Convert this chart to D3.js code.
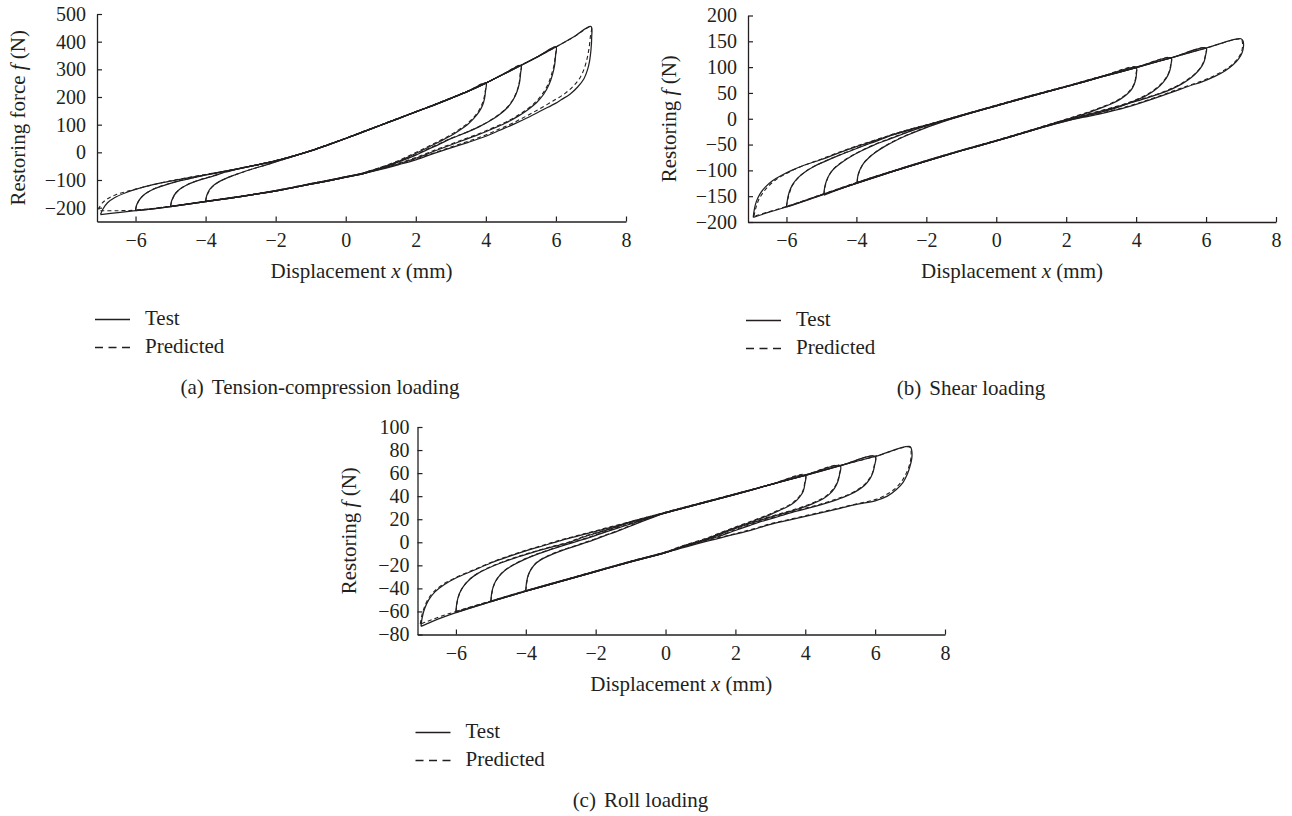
<!DOCTYPE html>
<html>
<head>
<meta charset="utf-8">
<script src="https://cdn.jsdelivr.net/npm/d3@7"></script>
<style>
  html, body { margin: 0; padding: 0; background: #ffffff; }
  svg text { font-family: 'Liberation Serif', 'Times New Roman', serif; fill: #231f20; }
</style>
</head>
<body>
<svg id="fig" width="1292" height="816"></svg>
<script>
// ---------- shared axis values ----------
const xTickValues = [-6, -4, -2, 0, 2, 4, 6, 8];
const innerAmplitudes = [4, 5, 6];   // inner loops; the 7 mm loop is the outer envelope
const outerAmplitude = 7;
const legendLabels = ["Test", "Predicted"];
const xTitle = ["Displacement ", "x", " (mm)"];

// ---------- (a) tension-compression loading ----------
const tcTicksY = [-200, -100, 0, 100, 200, 300, 400, 500];
const tcTitleY = ["Restoring force ", "f", " (N)"];
const tcCaption = ["(a)", "Tension-compression loading"];

// outer loop, loading branch (x increasing)
const tcUpperTest = [[-7.0,-225],[-6.93,-205],[-6.8,-182],[-6.6,-164],[-6.3,-147],[-6.0,-134],[-5.5,-117],[-5.0,-104],[-4.5,-92],[-4.0,-81],[-3.5,-70],[-3.0,-58],[-2.5,-45],[-2.0,-31],[-1.5,-14],[-1.0,5],[-0.5,27],[0,50],[0.5,74],[1,98],[1.5,122],[2,146],[2.5,170],[3,195],[3.5,221],[4,250],[4.5,282],[5,314],[5.5,347],[6,381],[6.5,417],[7.0,455]];
// outer loop, unloading branch (x decreasing)
const tcLowerTest = [[7.0,455],[7.02,415],[7.0,370],[6.96,330],[6.9,298],[6.8,266],[6.62,236],[6.4,210],[6.15,190],[6.0,178],[5.6,152],[5.2,126],[4.8,102],[4.4,80],[4.0,58],[3.5,36],[3.0,16],[2.5,-5],[2.0,-27],[1.5,-45],[1.0,-62],[0.5,-77],[0,-90],[-0.5,-103],[-1,-115],[-1.5,-128],[-2,-140],[-2.5,-150],[-3,-160],[-3.5,-169],[-4,-178],[-4.5,-187],[-5,-196],[-5.5,-204],[-6,-211],[-6.5,-218],[-7.0,-225]];
// reversal at -A for A = 4, 5, 6
const tcLeftTest = [
  [[-4,-178],[-3.98,-162],[-3.94,-147],[-3.87,-132],[-3.76,-118],[-3.6,-105],[-3.4,-93],[-3.15,-81],[-2.85,-67.5],[-2.5,-54],[-2.15,-40.5],[-1.8,-26.5],[-1.45,-12.8]],
  [[-5,-196],[-4.98,-180],[-4.93,-163],[-4.85,-147],[-4.72,-132],[-4.55,-119],[-4.33,-107],[-4.07,-96],[-3.77,-85],[-3.45,-72],[-3.1,-61]],
  [[-6,-211],[-5.98,-195],[-5.93,-180],[-5.85,-165],[-5.72,-150],[-5.55,-137],[-5.32,-125],[-5.05,-114],[-4.72,-102.5],[-4.35,-92],[-3.95,-81]]
];
// reversal at +A for A = 4, 5, 6
const tcRightTest = [
  [[4,250],[3.99,222],[3.96,193],[3.9,168],[3.8,145],[3.65,122],[3.47,100],[3.25,80],[3.0,60],[2.7,40],[2.4,21],[2.1,2],[1.8,-16],[1.5,-33],[1.2,-47.5],[0.9,-61],[0.6,-73]],
  [[5,314],[4.99,285],[4.96,252],[4.89,220],[4.78,190],[4.62,162],[4.4,138],[4.12,114],[3.8,92],[3.45,72],[3.05,52],[2.65,28],[2.3,8],[1.95,-13],[1.6,-30],[1.25,-46.5],[0.9,-61.5],[0.6,-72.5]],
  [[6,381],[5.99,350],[5.96,313],[5.9,280],[5.8,244],[5.65,210],[5.45,180],[5.2,154],[4.9,129],[4.55,105],[4.15,83],[3.75,62],[3.3,41],[2.9,22],[2.5,3],[2.1,-17],[1.7,-34],[1.3,-49],[0.9,-63],[0.6,-73.5]]
];
const tcUpperPred = [[-7.05,-207],[-7.02,-196],[-6.94,-182],[-6.8,-168],[-6.58,-154],[-6.3,-143],[-6.0,-133],[-5.5,-117],[-5.0,-103],[-4.5,-91],[-4.0,-80],[-3.5,-69],[-3.0,-57],[-2.5,-44],[-2.0,-30],[-1.5,-13],[-1.0,6],[-0.5,28],[0,51],[0.5,75],[1,99],[1.5,123],[2,147],[2.5,171],[3,196],[3.5,222],[4,251],[4.5,283],[5,315],[5.5,347],[6,381],[6.5,416],[7.0,453]];
const tcLowerPred = [[7.0,453],[6.98,415],[6.94,372],[6.88,334],[6.8,300],[6.68,268],[6.5,240],[6.27,214],[6.0,192],[5.6,162],[5.2,134],[4.8,108],[4.4,85],[4.0,63],[3.5,40],[3.0,19],[2.5,-3],[2.0,-24],[1.5,-43],[1.0,-60],[0.5,-75],[0,-88],[-0.5,-101],[-1,-113],[-1.5,-126],[-2,-138],[-2.5,-149],[-3,-159],[-3.5,-168],[-4,-177],[-4.5,-186],[-5,-195],[-5.5,-203],[-6,-209],[-6.5,-211],[-7.07,-211]];
const tcLeftPred = [
  [[-4,-177],[-3.97,-160],[-3.92,-145],[-3.85,-131],[-3.74,-117],[-3.58,-104],[-3.38,-92],[-3.13,-80],[-2.83,-66.5],[-2.48,-53],[-2.13,-39.5],[-1.78,-25.5],[-1.43,-12]],
  [[-5,-195],[-4.97,-178],[-4.92,-162],[-4.84,-146],[-4.71,-131],[-4.54,-118],[-4.32,-106],[-4.06,-95],[-3.76,-84],[-3.44,-71],[-3.09,-60]],
  [[-6,-209],[-5.97,-193],[-5.92,-178],[-5.84,-163],[-5.71,-149],[-5.54,-136],[-5.31,-124],[-5.04,-113],[-4.71,-101.5],[-4.34,-91],[-3.94,-80]]
];
const tcRightPred = [
  [[4,251],[3.98,220],[3.94,193],[3.87,168],[3.77,145],[3.63,123],[3.45,102],[3.23,82],[2.98,62],[2.68,42],[2.38,23],[2.08,4],[1.78,-14],[1.48,-31],[1.18,-46],[0.88,-59],[0.58,-71]],
  [[5,315],[4.98,284],[4.95,250],[4.88,219],[4.77,190],[4.61,163],[4.4,139],[4.12,115],[3.8,93],[3.45,73],[3.05,53],[2.65,30],[2.3,10],[1.95,-11],[1.6,-28],[1.25,-44],[0.9,-58.5],[0.6,-70.5]],
  [[6,381],[5.98,348],[5.94,312],[5.87,280],[5.77,245],[5.62,212],[5.42,182],[5.18,156],[4.88,131],[4.53,107],[4.13,85],[3.73,64],[3.28,43],[2.88,24],[2.48,5],[2.08,-15],[1.68,-32],[1.28,-47],[0.88,-61],[0.58,-71.5]]
];

// ---------- (b) shear loading ----------
const shTicksY = [-200, -150, -100, -50, 0, 50, 100, 150, 200];
const shTitleY = ["Restoring ", "f", " (N)"];
const shCaption = ["(b)", "Shear loading"];

const shUpperTest = [[-6.95,-191],[-6.92,-176],[-6.86,-160],[-6.76,-146],[-6.6,-132],[-6.4,-120],[-6.15,-110],[-5.85,-100],[-5.5,-90],[-5.0,-79],[-4.5,-66],[-4.0,-54],[-3.5,-43],[-3.0,-32],[-2.5,-22],[-2.0,-13],[-1.0,6],[0,25],[1,44],[2,62],[3,81],[4,99],[5,118],[6,137],[7.0,155]];
const shLowerTest = [[7.0,155],[7.06,150],[7.07,140],[7.03,128],[6.93,116],[6.78,105],[6.55,93],[6.25,82],[5.9,72],[5.5,63],[5.05,52],[4.5,39],[4.0,28],[3.5,18],[3.0,10],[2.5,3],[2.0,-4],[1.0,-23],[0,-43],[-1,-62],[-2,-82],[-3,-103],[-4,-125],[-5,-148],[-6,-171],[-6.5,-181],[-6.95,-191]];
const shLeftTest = [
  [[-3.98,-124],[-3.96,-111],[-3.9,-99],[-3.8,-87],[-3.65,-76],[-3.45,-65],[-3.2,-54],[-2.9,-43],[-2.55,-32],[-2.15,-21],[-1.7,-10],[-1.3,-1],[-0.9,7.5]],
  [[-4.93,-148],[-4.91,-134],[-4.86,-121],[-4.77,-108],[-4.63,-96],[-4.43,-85],[-4.18,-74],[-3.88,-63],[-3.5,-51],[-3.08,-40],[-2.65,-29],[-2.25,-19],[-1.85,-10.8]],
  [[-6,-171],[-5.97,-156],[-5.92,-142],[-5.83,-128],[-5.68,-115],[-5.47,-103],[-5.2,-92],[-4.88,-82],[-4.5,-71],[-4.05,-59],[-3.6,-47.5],[-3.15,-36.3]]
];
const shRightTest = [
  [[4,99],[4.01,88],[3.99,77],[3.94,66],[3.86,56],[3.73,47],[3.55,38],[3.3,29],[3.0,21],[2.68,13],[2.32,5],[1.95,-3],[1.5,-13]],
  [[5,118],[5.0,106],[4.97,95],[4.9,83],[4.78,71],[4.6,59],[4.37,48],[4.08,38],[3.75,29],[3.38,20],[3.0,13],[2.6,6],[2.2,-1],[1.8,-8],[1.4,-15]],
  [[6,137],[5.99,124],[5.95,112],[5.87,101],[5.74,90],[5.56,79],[5.32,68],[5.03,58],[4.7,49],[4.3,40],[3.85,31],[3.4,22],[2.95,14],[2.5,6],[2.05,-2],[1.6,-10]]
];
const shUpperPred = [[-6.93,-189],[-6.88,-174],[-6.8,-158],[-6.68,-144],[-6.52,-131],[-6.32,-119],[-6.08,-109],[-5.8,-99],[-5.45,-89],[-5.0,-78],[-4.5,-65],[-4.0,-53],[-3.5,-42],[-3.0,-31],[-2.5,-21],[-2.0,-12],[-1.0,7],[0,26],[1,45],[2,63],[3,82],[4,100],[5,118],[6,137],[7.0,154]];
const shLowerPred = [[7.0,154],[7.04,148],[7.04,138],[7.0,127],[6.9,116],[6.75,105],[6.52,94],[6.22,83],[5.88,73],[5.48,64],[5.03,53],[4.5,40],[4.0,29],[3.5,19],[3.0,11],[2.5,4],[2.0,-3],[1.0,-22],[0,-42],[-1,-61],[-2,-81],[-3,-102],[-4,-124],[-5,-147],[-6,-170],[-6.5,-180],[-6.93,-189]];
const shLeftPred = [
  [[-3.98,-123],[-3.95,-110],[-3.89,-98],[-3.79,-86],[-3.64,-75],[-3.44,-64],[-3.19,-53],[-2.89,-42],[-2.54,-31],[-2.14,-20],[-1.69,-9],[-1.3,0],[-0.9,8.5]],
  [[-4.93,-147],[-4.9,-133],[-4.85,-120],[-4.76,-107],[-4.62,-95],[-4.42,-84],[-4.17,-73],[-3.87,-62],[-3.49,-50],[-3.07,-39],[-2.64,-28],[-2.25,-18],[-1.85,-9.8]],
  [[-6,-170],[-5.96,-155],[-5.9,-141],[-5.81,-127],[-5.66,-114],[-5.45,-102],[-5.18,-91],[-4.86,-81],[-4.48,-70],[-4.03,-58],[-3.6,-46.5],[-3.15,-35.3]]
];
const shRightPred = [
  [[4,100],[4.0,88],[3.98,77],[3.93,66],[3.85,57],[3.72,48],[3.54,39],[3.29,30],[2.99,22],[2.67,14],[2.31,6],[1.94,-2],[1.5,-12]],
  [[5,118],[4.99,106],[4.96,95],[4.89,83],[4.77,72],[4.59,60],[4.36,49],[4.07,39],[3.74,30],[3.37,21],[2.99,14],[2.59,7],[2.19,0],[1.79,-7],[1.4,-14]],
  [[6,137],[5.98,124],[5.94,112],[5.86,101],[5.73,90],[5.55,80],[5.31,69],[5.02,59],[4.69,50],[4.29,41],[3.84,32],[3.39,23],[2.94,15],[2.49,7],[2.04,-1],[1.6,-9]]
];

// ---------- (c) roll loading ----------
const rlTicksY = [-80, -60, -40, -20, 0, 20, 40, 60, 80, 100];
const rlTitleY = ["Restoring ", "f", " (N)"];
const rlCaption = ["(c)", "Roll loading"];

const rlUpperTest = [[-7.0,-73],[-6.97,-66],[-6.9,-58],[-6.78,-50],[-6.6,-43],[-6.35,-37],[-6.0,-31],[-5.5,-24.5],[-5.0,-18],[-4.5,-12.5],[-4.0,-7.5],[-3.5,-3],[-3.0,1.5],[-2.5,5.5],[-2.0,9.5],[-1.0,17.5],[0,25.5],[1,33.5],[2,41.5],[3,50],[4,58],[5,66.5],[6,74.5],[7.0,83]];
const rlLowerTest = [[7.0,83],[7.05,79],[7.05,73],[7.0,66],[6.92,59],[6.8,52],[6.6,45.5],[6.35,40],[6.0,36],[5.5,33],[5.0,29.5],[4.5,26],[4.0,22.5],[3.5,19],[3.0,15.5],[2.5,11],[2.0,7],[1.0,-0.5],[0,-9],[-1,-17],[-2,-25.5],[-3,-34],[-4,-42.5],[-5,-51.5],[-6,-61],[-6.5,-66.5],[-6.85,-71],[-7.0,-73]];
const rlLeftTest = [
  [[-4,-42.5],[-3.98,-35],[-3.93,-28.5],[-3.84,-23],[-3.7,-18],[-3.5,-14],[-3.25,-10.5],[-2.95,-7],[-2.6,-3.5],[-2.2,0.5],[-1.75,5.5],[-1.3,10.5],[-0.85,16],[-0.4,21.2]],
  [[-5,-51.5],[-4.97,-43],[-4.9,-36],[-4.78,-30],[-4.6,-24.5],[-4.37,-20],[-4.08,-15.5],[-3.72,-11],[-3.3,-6.5],[-2.85,-2],[-2.35,2.5],[-1.85,7.5],[-1.35,12.5],[-0.9,16.9]],
  [[-6,-61],[-5.97,-52],[-5.9,-44.5],[-5.78,-38],[-5.6,-32],[-5.37,-27],[-5.08,-22.5],[-4.72,-18],[-4.3,-13.5],[-3.82,-9],[-3.3,-4.5],[-2.75,0],[-2.3,5],[-1.85,9],[-1.4,13.3]]
];
const rlRightTest = [
  [[4,58],[3.99,51],[3.94,44],[3.83,39],[3.68,34.5],[3.5,31],[3.25,27.5],[3.0,24],[2.7,20.5],[2.35,16.5],[1.95,12],[1.55,7.5],[1.15,2.6],[0.75,-1.2],[0.35,-5.2]],
  [[5,66.5],[4.98,58.5],[4.93,52.5],[4.84,47],[4.7,42],[4.5,37.5],[4.25,34],[3.95,30.5],[3.6,27],[3.2,23.5],[2.75,19.5],[2.3,15],[1.85,10.2],[1.45,5.5],[1.05,1.3],[0.6,-2.8]],
  [[6,74.5],[5.98,66],[5.93,60],[5.84,54.5],[5.7,49.5],[5.5,45],[5.25,41],[4.95,37.5],[4.6,34],[4.2,30.5],[3.75,27],[3.3,23],[2.85,19],[2.4,14.5],[1.95,9.8],[1.5,4.8],[1.05,0.9],[0.6,-3.1]]
];
const rlUpperPred = [[-7.02,-71],[-6.98,-64],[-6.91,-57],[-6.8,-49.5],[-6.62,-42.5],[-6.37,-36.5],[-6.0,-30.5],[-5.5,-24],[-5.0,-17.5],[-4.5,-12],[-4.0,-7],[-3.5,-2.5],[-3.0,2],[-2.5,6],[-2.0,10],[-1.0,18],[0,26],[1,34],[2,42],[3,50],[4,58.5],[5,66.5],[6,74.5],[7.0,82.5]];
const rlLowerPred = [[7.0,82.5],[7.03,78],[7.02,72],[6.96,65],[6.87,58.5],[6.74,52],[6.55,46],[6.3,41],[6.0,37],[5.5,33.5],[5.0,30],[4.5,26.5],[4.0,23],[3.5,19.5],[3.0,16],[2.5,11.5],[2.0,7.5],[1.0,0],[0,-8.5],[-1,-16.5],[-2,-25],[-3,-33.5],[-4,-42],[-5,-51],[-6,-60],[-6.5,-65],[-6.85,-69],[-7.02,-71]];
const rlLeftPred = [
  [[-4,-42],[-3.97,-34.5],[-3.92,-28],[-3.83,-22.5],[-3.69,-17.5],[-3.49,-13.5],[-3.24,-10],[-2.94,-6.5],[-2.59,-3],[-2.19,1],[-1.74,6],[-1.29,11],[-0.84,16.5],[-0.39,21.7]],
  [[-5,-51],[-4.96,-42.5],[-4.89,-35.5],[-4.77,-29.5],[-4.59,-24],[-4.36,-19.5],[-4.07,-15],[-3.71,-10.5],[-3.29,-6],[-2.84,-1.5],[-2.34,3],[-1.84,8],[-1.35,13],[-0.9,17.4]],
  [[-6,-60],[-5.96,-51.5],[-5.89,-44],[-5.77,-37.5],[-5.59,-31.5],[-5.36,-26.5],[-5.07,-22],[-4.71,-17.5],[-4.29,-13],[-3.81,-8.5],[-3.29,-4],[-2.74,0.5],[-2.3,5.5],[-1.85,9.5],[-1.4,13.8]]
];
const rlRightPred = [
  [[4,58.5],[3.98,51],[3.93,44.5],[3.82,39.5],[3.67,35],[3.49,31.5],[3.24,28],[2.99,24.5],[2.69,21],[2.34,17],[1.94,12.5],[1.54,8],[1.14,3.2],[0.74,-0.6],[0.34,-4.6]],
  [[5,66.5],[4.97,58.5],[4.92,52.5],[4.83,47.5],[4.69,42.5],[4.49,38],[4.24,34.5],[3.94,31],[3.59,27.5],[3.19,24],[2.74,20],[2.29,15.5],[1.84,10.8],[1.44,6],[1.04,1.8],[0.6,-2.2]],
  [[6,74.5],[5.97,66],[5.92,60],[5.83,55],[5.69,50],[5.49,45.5],[5.24,41.5],[4.94,38],[4.59,34.5],[4.19,31],[3.74,27.5],[3.29,23.5],[2.84,19.5],[2.39,15],[1.94,10.3],[1.5,5.3],[1.05,1.4],[0.6,-2.6]]
];

// ---------- layout of the three panels ----------
const INK = "#231f20";
const TICK_FONT = 20;
const TEXT_FONT = 21;

const panels = [
  { test: [tcUpperTest, tcLowerTest, tcLeftTest, tcRightTest],
    pred: [tcUpperPred, tcLowerPred, tcLeftPred, tcRightPred],
    yDomain: [-250, 500], yTicks: tcTicksY, yTitle: tcTitleY, caption: tcCaption,
    left: 97, right: 626, top: 14, bottom: 221.5, yPad: 11, yTitleX: 25, captionX: 320 },
  { test: [shUpperTest, shLowerTest, shLeftTest, shRightTest],
    pred: [shUpperPred, shLowerPred, shLeftPred, shRightPred],
    yDomain: [-200, 200], yTicks: shTicksY, yTitle: shTitleY, caption: shCaption,
    left: 748, right: 1276, top: 15.5, bottom: 222, yPad: 11, yTitleX: 676, captionX: 971 },
  { test: [rlUpperTest, rlLowerTest, rlLeftTest, rlRightTest],
    pred: [rlUpperPred, rlLowerPred, rlLeftPred, rlRightPred],
    yDomain: [-80, 100], yTicks: rlTicksY, yTitle: rlTitleY, caption: rlCaption,
    left: 417.5, right: 945, top: 427, bottom: 634.5, yPad: 8, yTitleX: 356, captionX: 640.5 }
];

// Join the reversal curves with the outer envelope to close one loop of amplitude A.
function loopPoints(upper, lower, leftTurns, rightTurns, amp) {
  if (amp === outerAmplitude) return upper.concat(lower.slice(1));
  const i = innerAmplitudes.indexOf(amp);
  const L = leftTurns[i], R = rightTurns[i];
  const lEnd = L[L.length - 1][0];
  const rEnd = R[R.length - 1][0];
  const up = upper.filter(p => p[0] > lEnd && p[0] < amp);
  const low = lower.filter(p => p[0] < rEnd && p[0] > -amp);
  return L.concat(up, R, low, [L[0]]);
}

const svg = d3.select("#fig");

function styleAxis(g) {
  g.attr("font-family", null).attr("font-size", null);
  g.select(".domain").attr("stroke", INK).attr("stroke-width", 1.3);
  g.selectAll(".tick line").attr("stroke", INK).attr("stroke-width", 1.2);
  g.selectAll(".tick text").style("font-size", TICK_FONT + "px").attr("fill", INK);
}

panels.forEach(p => {
  const x = d3.scaleLinear().domain([-7.1, 8]).range([p.left, p.right]);
  const y = d3.scaleLinear().domain(p.yDomain).range([p.bottom, p.top]);
  const g = svg.append("g");

  // axes
  g.append("g")
    .attr("transform", `translate(0,${p.bottom})`)
    .call(d3.axisBottom(x).tickValues(xTickValues).tickSize(-5).tickSizeOuter(0).tickPadding(11))
    .call(styleAxis);
  g.append("g")
    .attr("transform", `translate(${p.left},0)`)
    .call(d3.axisLeft(y).tickValues(p.yTicks).tickSize(-5).tickSizeOuter(0).tickPadding(p.yPad))
    .call(styleAxis);

  // axis titles
  const xt = g.append("text")
    .attr("x", (p.left + p.right) / 2).attr("y", p.bottom + 56)
    .attr("text-anchor", "middle").style("font-size", TEXT_FONT + "px");
  xTitle.forEach((s, k) => xt.append("tspan").text(s).style("font-style", k === 1 ? "italic" : "normal"));

  const yt = g.append("text")
    .attr("transform", `translate(${p.yTitleX},${(p.top + p.bottom) / 2}) rotate(-90)`)
    .attr("text-anchor", "middle").style("font-size", TEXT_FONT + "px");
  p.yTitle.forEach((s, k) => yt.append("tspan").text(s).style("font-style", k === 1 ? "italic" : "normal"));

  // hysteresis loops
  const line = d3.line()
    .x(d => x(d[0])).y(d => y(d[1]))
    .curve(d3.curveCatmullRom.alpha(0.5));
  const amps = innerAmplitudes.concat([outerAmplitude]);

  amps.forEach(a => {
    g.append("path")
      .attr("d", line(loopPoints(p.test[0], p.test[1], p.test[2], p.test[3], a)))
      .attr("fill", "none").attr("stroke", INK).attr("stroke-width", 1.25)
      .attr("stroke-linejoin", "round");
  });
  amps.forEach(a => {
    g.append("path")
      .attr("d", line(loopPoints(p.pred[0], p.pred[1], p.pred[2], p.pred[3], a)))
      .attr("fill", "none").attr("stroke", INK).attr("stroke-width", 1.1)
      .attr("stroke-dasharray", "4,3");
  });

  // legend
  const lx = p.left - 2;
  const ly = Math.round(p.bottom + 97.5) + 0.5;
  legendLabels.forEach((lab, k) => {
    const yy = ly + k * 28;
    g.append("line")
      .attr("x1", lx).attr("x2", lx + 35).attr("y1", yy).attr("y2", yy)
      .attr("stroke", INK).attr("stroke-width", 1.3)
      .attr("stroke-dasharray", k === 1 ? "8,5.5" : null);
    g.append("text")
      .attr("x", lx + 50).attr("y", yy + 5.5)
      .style("font-size", TEXT_FONT + "px").text(lab);
  });

  // caption
  const cap = g.append("text")
    .attr("x", p.captionX).attr("y", p.bottom + 172.5)
    .attr("text-anchor", "middle").style("font-size", TEXT_FONT + "px");
  cap.append("tspan").text(p.caption[0]);
  cap.append("tspan").attr("dx", 8).text(p.caption[1]);
});
</script>
</body>
</html>
